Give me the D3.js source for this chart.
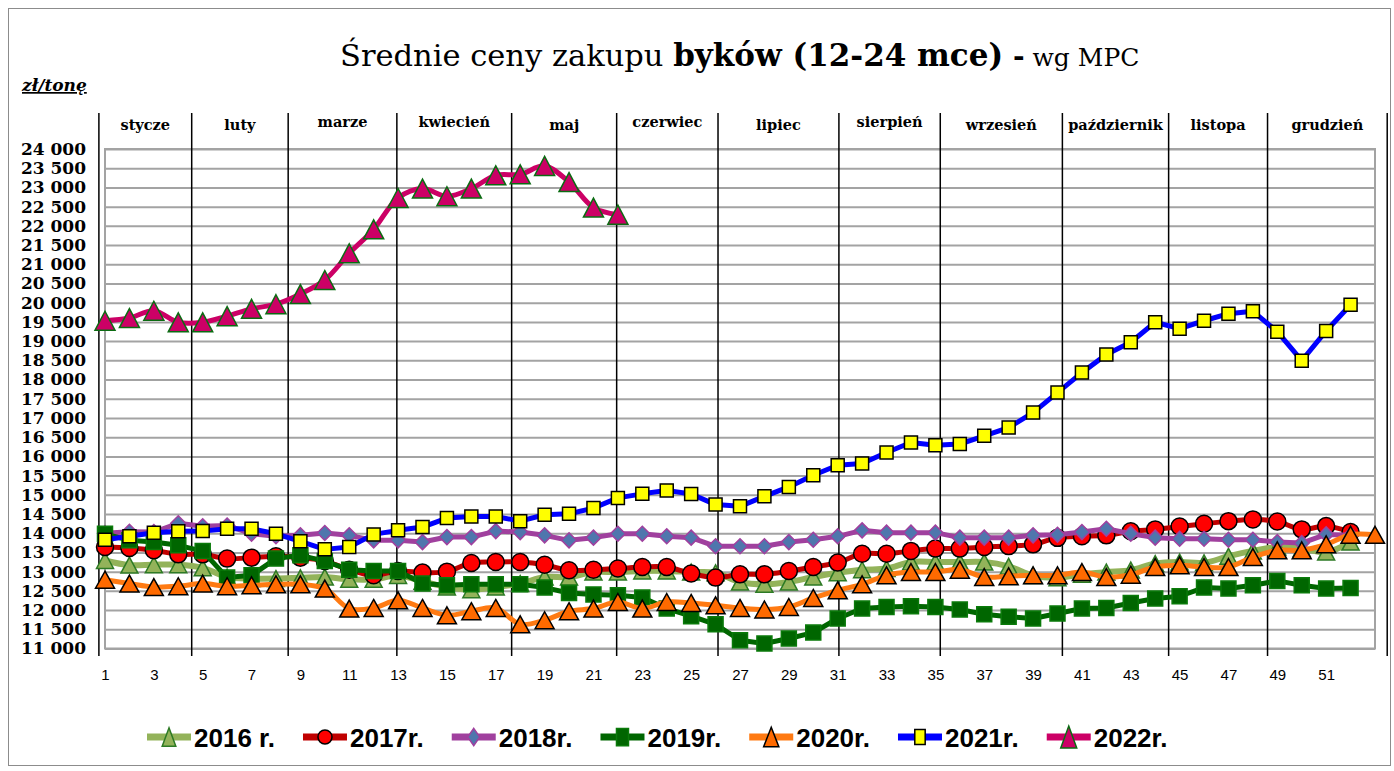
<!DOCTYPE html>
<html>
<head>
<meta charset="utf-8">
<script src="https://cdn.jsdelivr.net/npm/d3@7"></script>
<style>
  body { margin: 0; background: #fff; }
  svg { display: block; }
</style>
</head>
<body>
<svg id="chart" width="1394" height="771"></svg>
<script>

// week numbers and tick labels
var yTicks = d3.range(11000, 24001, 500);
var xTicks = d3.range(1, 52, 2);

var months = ['stycze', 'luty', 'marze', 'kwiecień', 'maj', 'czerwiec', 'lipiec',
  'sierpień', 'wrzesień', 'październik', 'listopa', 'grudzień'];
// month separators, in week units (drawn by hand in the original)
var monthBounds = [0.75, 4.55, 8.5, 12.95, 17.65, 21.95, 26.1, 31.05, 35.2, 40.2, 44.55, 48.6, 53.5];

var seriesNames = ['2016 r.', '2017r.', '2018r.', '2019r.', '2020r.', '2021r.', '2022r.'];

var data2016 = [13290, 13170, 13180, 13180, 13100, 12860, 12820, 12820, 12840, 12860,
  12800, 12800, 12900, 12750, 12600, 12530, 12600, 12690, 12860, 12860,
  12990, 12990, 13020, 13020, 12990, 12970, 12730, 12670, 12730, 12860,
  12970, 13050, 13080, 13250, 13250, 13250, 13250, 13140, 12900, 12840,
  12930, 12990, 13040, 13210, 13250, 13230, 13400, 13540, 13640, 13600,
  13510, 13770];
var data2017 = [13640, 13615, 13555, 13450, 13450, 13340, 13365, 13400, 13365, 13280,
  13050, 12905, 13015, 12975, 13000, 13225, 13250, 13250, 13180, 13035,
  13050, 13080, 13120, 13120, 12950, 12845, 12930, 12930, 13015, 13120,
  13235, 13465, 13465, 13540, 13600, 13600, 13640, 13665, 13710, 13880,
  13920, 13945, 14050, 14100, 14175, 14245, 14315, 14360, 14305, 14100,
  14185, 14030];
var data2018 = [14000, 14040, 14030, 14260, 14180, 14200, 13990, 13920, 13945, 14005,
  13945, 13815, 13815, 13770, 13900, 13900, 14055, 14030, 13945, 13815,
  13885, 13985, 13985, 13920, 13885, 13660, 13660, 13660, 13770, 13830,
  13920, 14075, 14015, 14015, 14015, 13885, 13885, 13885, 13945, 13960,
  14030, 14115, 13985, 13885, 13855, 13855, 13830, 13830, 13770, 13745,
  13970, 13950];
var data2019 = [13985, 13815, 13770, 13685, 13535, 12845, 12905, 13340, 13425, 13275,
  13050, 13015, 13015, 12690, 12645, 12670, 12670, 12670, 12585, 12445,
  12405, 12385, 12325, 12040, 11840, 11630, 11215, 11130, 11260, 11415,
  11780, 12040, 12080, 12100, 12080, 12015, 11890, 11825, 11780, 11910,
  12040, 12055, 12185, 12300, 12360, 12585, 12560, 12645, 12760, 12645,
  12560, 12575];
var data2020 = [12790, 12690, 12600, 12620, 12690, 12620, 12645, 12670, 12670, 12560,
  12040, 12055, 12255, 12055, 11865, 11970, 12055, 11630, 11735, 11970,
  12040, 12210, 12040, 12210, 12185, 12125, 12055, 12015, 12080, 12315,
  12515, 12670, 12905, 12990, 12990, 13050, 12860, 12880, 12905, 12905,
  12990, 12860, 12920, 13120, 13165, 13120, 13120, 13380, 13555, 13555,
  13710, 13960, 13960];
var data2021 = [13830, 13920, 14015, 14050, 14055, 14115, 14115, 13985, 13790, 13580,
  13640, 13970, 14075, 14160, 14395, 14435, 14435, 14315, 14480, 14505,
  14655, 14920, 15025, 15115, 15020, 14745, 14700, 14960, 15205, 15510,
  15770, 15815, 16100, 16360, 16290, 16320, 16535, 16750, 17140, 17660,
  18180, 18650, 18970, 19490, 19325, 19530, 19715, 19775, 19245, 18490,
  19265, 19945];
var data2022 = [19530, 19600, 19790, 19490, 19490, 19650, 19840, 19960, 20225, 20590,
  21285, 21910, 22725, 22970, 22770, 22970, 23315, 23340, 23560, 23140,
  22475, 22290];

var seriesValues = [data2016, data2017, data2018, data2019, data2020, data2021, data2022];

// look of each series, same order as seriesNames
var styles = [
  {line: '#93b35a', fill: '#93b35a', stroke: '#2d7a25', shape: 'triangle', w: 17, h: 16, lw: 6, smooth: true},
  {line: '#c00000', fill: '#ff0000', stroke: '#000', shape: 'circle', w: 17, h: 17, lw: 5, smooth: true},
  {line: '#a0409e', fill: '#4f76ad', stroke: '#a0409e', shape: 'diamond', w: 15, h: 15, lw: 5, smooth: false},
  {line: '#006600', fill: '#006600', stroke: '#0a7a0a', shape: 'square', w: 15, h: 15, lw: 5, smooth: false},
  {line: '#ff7a12', fill: '#ff6a00', stroke: '#000', shape: 'triangle', w: 19, h: 17, lw: 5, smooth: true},
  {line: '#0000ff', fill: '#ffff00', stroke: '#000', shape: 'square', w: 13, h: 13, lw: 5, smooth: false},
  {line: '#cc0066', fill: '#cc0066', stroke: '#0b6b12', shape: 'triangle', w: 20, h: 19, lw: 5, smooth: true}
];

var plotLeft = 105, plotRight = 1375, plotTop = 149, plotBottom = 648.5;

var svg = d3.select('#chart');

var x = d3.scaleLinear().domain([1, 53]).range([plotLeft, plotRight]);
var y = d3.scaleLinear().domain([11000, 24000]).range([plotBottom, plotTop]);

// outer frame
svg.append('rect')
  .attr('x', 8.5).attr('y', 8.5)
  .attr('width', 1382).attr('height', 757)
  .attr('fill', '#fff')
  .attr('stroke', '#8c8c8c');

// title
var title = svg.append('text')
  .attr('x', 340).attr('y', 66)
  .attr('font-family', 'DejaVu Serif')
  .attr('fill', '#000');
title.append('tspan').attr('font-size', 30.5).text('Średnie ceny zakupu ');
title.append('tspan').attr('font-size', 31).attr('font-weight', 'bold').text('byków (12-24 mce)');
title.append('tspan').attr('font-size', 28).attr('font-weight', 'bold').text(' -');
title.append('tspan').attr('font-size', 25).text(' wg MPC');

svg.append('text')
  .attr('x', 22).attr('y', 91)
  .attr('font-family', 'DejaVu Serif')
  .attr('font-size', 17)
  .attr('font-weight', 'bold')
  .attr('font-style', 'italic')
  .attr('text-decoration', 'underline')
  .text('zł/tonę');

// gridlines
svg.append('g')
  .attr('transform', 'translate(' + plotLeft + ',0)')
  .call(d3.axisLeft(y).tickValues(yTicks).tickSize(-(plotRight - plotLeft)).tickFormat(''))
  .call(function(g) { g.select('.domain').remove(); })
  .selectAll('line')
  .attr('stroke', '#a3a3a3')
  .attr('stroke-width', 2);

svg.append('rect')
  .attr('x', plotLeft).attr('y', plotTop)
  .attr('width', plotRight - plotLeft).attr('height', plotBottom - plotTop)
  .attr('fill', 'none')
  .attr('stroke', '#a3a3a3')
  .attr('stroke-width', 2);

// y labels
var yAxis = svg.append('g')
  .attr('transform', 'translate(' + plotLeft + ',0)')
  .call(d3.axisLeft(y).tickValues(yTicks).tickSize(0).tickPadding(19)
    .tickFormat(function(d) { return d3.format(',')(d).replace(',', ' '); }));
yAxis.select('.domain').remove();
yAxis.selectAll('text')
  .attr('font-family', 'DejaVu Serif')
  .attr('font-size', 17)
  .attr('font-weight', 'bold')
  .attr('fill', '#000');

// x labels
var xAxis = svg.append('g')
  .attr('transform', 'translate(0,' + plotBottom + ')')
  .call(d3.axisBottom(x).tickValues(xTicks).tickSize(0).tickPadding(21));
xAxis.select('.domain').remove();
xAxis.selectAll('text')
  .attr('font-family', 'Liberation Sans')
  .attr('font-size', 15)
  .attr('fill', '#000');

// month separators and names
svg.append('g').selectAll('line')
  .data(monthBounds)
  .join('line')
  .attr('x1', function(d) { return x(d); })
  .attr('x2', function(d) { return x(d); })
  .attr('y1', 113)
  .attr('y2', 656)
  .attr('stroke', '#000')
  .attr('stroke-width', 1.5);

svg.append('g').selectAll('text')
  .data(months)
  .join('text')
  .attr('x', function(d, i) { return (x(monthBounds[i]) + x(monthBounds[i + 1])) / 2; })
  .attr('y', function(d, i) { return [2, 3, 5, 7].indexOf(i) >= 0 ? 127 : 130; })
  .attr('text-anchor', 'middle')
  .attr('font-family', 'DejaVu Serif')
  .attr('font-size', 14.5)
  .attr('font-weight', 'bold')
  .text(function(d) { return d; })
  .each(function(d, i) {
    var room = x(monthBounds[i + 1]) - x(monthBounds[i]) - 10;
    if (this.getComputedTextLength() > room) {
      d3.select(this).attr('textLength', room).attr('lengthAdjust', 'spacingAndGlyphs');
    }
  });

// marker path centred on its bounding box
function markerPath(shape, w, h) {
  var a = w / 2, b = h / 2;
  if (shape === 'triangle') return 'M0,' + (-b) + 'L' + a + ',' + b + 'L' + (-a) + ',' + b + 'Z';
  if (shape === 'diamond') return 'M0,' + (-b) + 'L' + a + ',0L0,' + b + 'L' + (-a) + ',0Z';
  if (shape === 'square') return 'M' + (-a) + ',' + (-b) + 'H' + a + 'V' + b + 'H' + (-a) + 'Z';
  return d3.arc()({innerRadius: 0, outerRadius: a, startAngle: 0, endAngle: 2 * Math.PI});
}

// series
seriesValues.forEach(function(values, k) {
  var st = styles[k];
  var pts = values.map(function(v, i) { return [i + 1, v]; });
  var line = d3.line()
    .x(function(d) { return x(d[0]); })
    .y(function(d) { return y(d[1]); })
    .curve(st.smooth ? d3.curveCatmullRom.alpha(0.5) : d3.curveLinear);

  var g = svg.append('g');
  g.append('path')
    .datum(pts)
    .attr('d', line)
    .attr('fill', 'none')
    .attr('stroke', st.line)
    .attr('stroke-width', st.lw)
    .attr('stroke-linejoin', 'round');

  g.selectAll('path.m')
    .data(pts)
    .join('path')
    .attr('class', 'm')
    .attr('transform', function(d) { return 'translate(' + x(d[0]) + ',' + y(d[1]) + ')'; })
    .attr('d', markerPath(st.shape, st.w, st.h))
    .attr('fill', st.fill)
    .attr('stroke', st.stroke)
    .attr('stroke-width', 1.5);
});

// legend
var lx = 147;
seriesNames.forEach(function(name, k) {
  var st = styles[k];
  var g = svg.append('g').attr('transform', 'translate(' + lx + ',737)');
  g.append('line')
    .attr('x1', 0).attr('x2', 44)
    .attr('stroke', st.line)
    .attr('stroke-width', 7);
  g.append('path')
    .attr('transform', 'translate(22,0)')
    .attr('d', markerPath(st.shape, st.shape === 'circle' ? 14 : st.w * 0.8, st.h * 1.15))
    .attr('fill', st.fill)
    .attr('stroke', st.stroke)
    .attr('stroke-width', 1.5);
  var t = g.append('text')
    .attr('x', 47).attr('y', 9.5)
    .attr('font-family', 'Liberation Sans')
    .attr('font-size', 26)
    .attr('font-weight', 'bold')
    .text(name);
  lx += 47 + t.node().getComputedTextLength() + 28;
});

</script>
</body>
</html>
